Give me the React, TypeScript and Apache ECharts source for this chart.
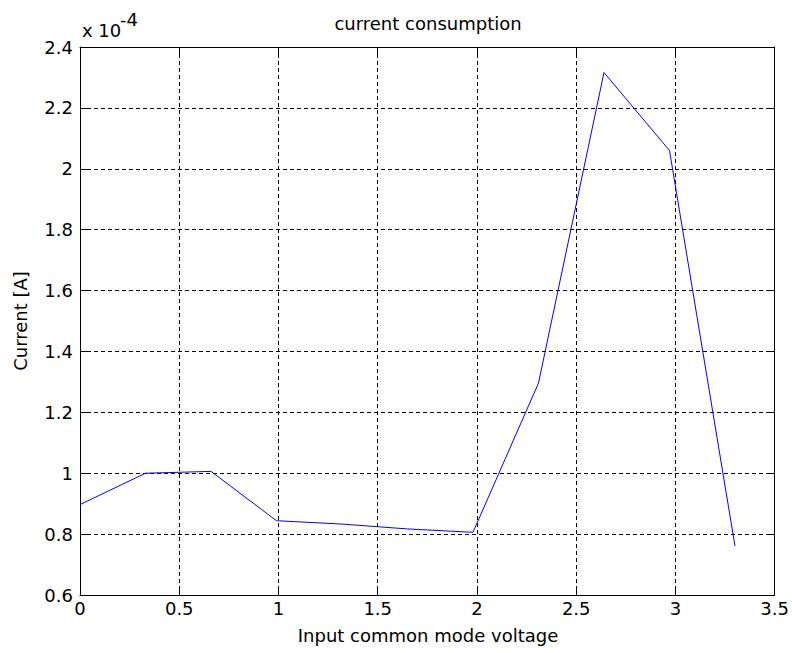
import React, { useEffect, useRef } from "react";
import * as echarts from "echarts";

// Input common mode voltage sweep [V]
const voltage: number[] = [0, 0.33, 0.66, 0.99, 1.32, 1.65, 1.98, 2.31, 2.64, 2.97, 3.3];
// Supply current, in units of 1e-4 A
const currentE4: number[] = [0.897, 1.0, 1.006, 0.844, 0.833, 0.817, 0.806, 1.296, 2.316, 2.06, 0.761];

const xTicks = { min: 0, max: 3.5, interval: 0.5 };
const yTicks = { min: 0.6, max: 2.4, interval: 0.2 };

const FONT = "DejaVu Sans";
const FS = 18;

export default function App() {
  const ref = useRef<HTMLDivElement>(null);

  useEffect(() => {
    if (!ref.current) return;
    const chart = echarts.init(ref.current, null, { renderer: "svg" });

    const axisLine = { show: true, onZero: false, lineStyle: { color: "#000", width: 1 } };
    const tick = { show: true, inside: true, length: 8, lineStyle: { color: "#000", width: 1 } };
    const split = { show: true, lineStyle: { color: "#000", width: 1, type: [4, 3] as number[] } };
    const label = { color: "#000", fontFamily: FONT, fontSize: FS };

    chart.setOption({
      animation: false,
      backgroundColor: "#fff",
      grid: { left: 80, right: 15, top: 47, bottom: 58, containLabel: false },
      xAxis: [
        {
          type: "value",
          position: "bottom",
          ...xTicks,
          axisLine,
          axisTick: tick,
          splitLine: split,
          axisLabel: { ...label, margin: 4, formatter: (v: number) => String(v) },
        },
        {
          type: "value",
          position: "top",
          ...xTicks,
          axisLine,
          axisTick: tick,
          splitLine: { show: false },
          axisLabel: { show: false },
        },
      ],
      yAxis: [
        {
          type: "value",
          position: "left",
          ...yTicks,
          axisLine,
          axisTick: tick,
          splitLine: split,
          axisLabel: {
            ...label,
            margin: 7,
            formatter: (v: number) => String(Math.round(v * 10) / 10),
          },
        },
        {
          type: "value",
          position: "right",
          ...yTicks,
          axisLine,
          axisTick: tick,
          splitLine: { show: false },
          axisLabel: { show: false },
        },
      ],
      series: [
        {
          type: "line",
          xAxisIndex: 0,
          yAxisIndex: 0,
          data: voltage.map((v, i) => [v, currentE4[i]]),
          showSymbol: false,
          symbol: "none",
          lineStyle: { color: "#0000ff", width: 1 },
          silent: true,
        },
      ],
      graphic: [
        {
          type: "text",
          x: 428,
          y: 23,
          style: {
            text: "current consumption",
            fill: "#000",
            font: `${FS}px ${FONT}`,
            textAlign: "center",
            textVerticalAlign: "middle",
          },
        },
        {
          type: "text",
          x: 82,
          y: 30,
          style: {
            text: "x 10",
            fill: "#000",
            font: `${FS}px ${FONT}`,
            textAlign: "left",
            textVerticalAlign: "middle",
          },
        },
        {
          type: "text",
          x: 120,
          y: 19,
          style: {
            text: "-4",
            fill: "#000",
            font: `${FS}px ${FONT}`,
            textAlign: "left",
            textVerticalAlign: "middle",
          },
        },
        {
          type: "text",
          x: 428,
          y: 635,
          style: {
            text: "Input common mode voltage",
            fill: "#000",
            font: `${FS}px ${FONT}`,
            textAlign: "center",
            textVerticalAlign: "middle",
          },
        },
        {
          type: "text",
          x: 20,
          y: 321,
          rotation: Math.PI / 2,
          style: {
            text: "Current [A]",
            fill: "#000",
            font: `${FS}px ${FONT}`,
            textAlign: "center",
            textVerticalAlign: "middle",
          },
        },
      ],
    });

    return () => chart.dispose();
  }, []);

  return <div ref={ref} style={{ width: 792, height: 653, position: "absolute", left: 0, top: 0 }} />;
}
